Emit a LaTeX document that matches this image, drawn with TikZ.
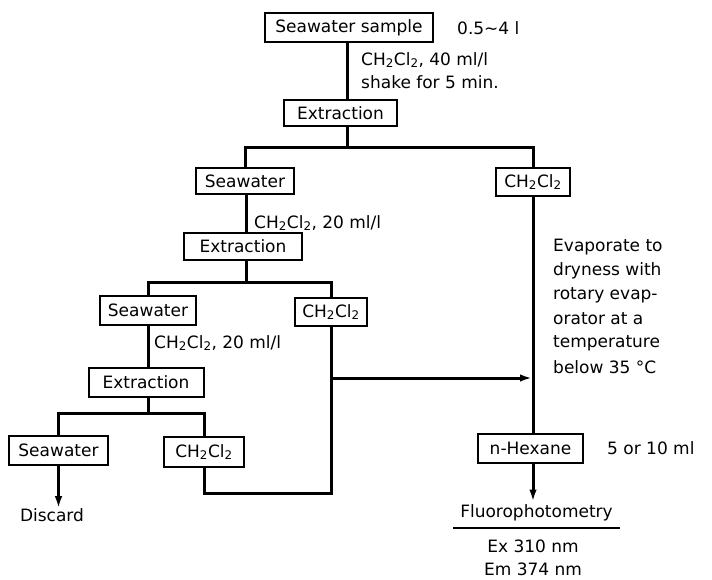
\documentclass[tikz,border=0pt]{standalone}
\usepackage{fontspec}
\setmainfont{DejaVu Sans}
\usetikzlibrary{arrows.meta}
\begin{document}
\begin{tikzpicture}[x=1pt,y=-1pt,
  every node/.style={font=\fontsize{17}{20}\selectfont},
  box/.style={draw, line width=2pt, inner sep=0pt, minimum height=28pt},
  conn/.style={line width=3pt},
  arr/.style={conn, -{Latex[length=12pt,width=7.5pt]}},
  lbl/.style={anchor=west, inner sep=0pt}]
\useasboundingbox (0,0) rectangle (712,579);
% boxes
\node[box, minimum width=168pt, minimum height=29pt] (sample) at (349,27.5) {Seawater sample};
\node[box, minimum width=113pt, minimum height=26pt] (ext1) at (340.5,113) {Extraction};
\node[box, minimum width=98pt, minimum height=26pt] (sw1) at (245,181) {Seawater};
\node[box, minimum width=74pt] (ch1) at (533,182) {CH\textsubscript{2}Cl\textsubscript{2}};
\node[box, minimum width=118pt, minimum height=27pt] (ext2) at (243,246.5) {Extraction};
\node[box, minimum width=96pt, minimum height=29pt] (sw2) at (148,310.5) {Seawater};
\node[box, minimum width=72pt] (ch2) at (331,312) {CH\textsubscript{2}Cl\textsubscript{2}};
\node[box, minimum width=115pt, minimum height=29pt] (ext3) at (146,382.5) {Extraction};
\node[box, minimum width=99pt, minimum height=29pt] (sw3) at (58.5,450.5) {Seawater};
\node[box, minimum width=80pt, minimum height=30pt] (ch3) at (204,452) {CH\textsubscript{2}Cl\textsubscript{2}};
\node[box, minimum width=105pt, minimum height=29pt] (hex) at (530.5,448.5) {n-Hexane};
% texts
\node[inner sep=0pt] (discard) at (52,515) {Discard};
\node[inner sep=0pt] (fluoro) at (536.5,513) {Fluorophotometry};
\node[inner sep=0pt] (ex) at (533,546) {Ex 310 nm};
\node[inner sep=0pt] (em) at (533,569) {Em 374 nm};
\node[lbl] (vol) at (457,28) {0.5∼4 l};
\node[lbl] (l1) at (361,60) {CH\textsubscript{2}Cl\textsubscript{2}, 40 ml/l};
\node[lbl] (l2) at (361,82) {shake for 5 min.};
\node[lbl] (l3) at (254,223) {CH\textsubscript{2}Cl\textsubscript{2}, 20 ml/l};
\node[lbl] (l4) at (154,343) {CH\textsubscript{2}Cl\textsubscript{2}, 20 ml/l};
\node[lbl] (l5) at (607,448) {5 or 10 ml};
\node[lbl] (e1) at (553,247) {Evaporate to};
\node[lbl] (e2) at (553,271) {dryness with};
\node[lbl] (e3) at (553,295) {rotary evap-};
\node[lbl] (e4) at (553,319) {orator at a};
\node[lbl] (e5) at (553,343) {temperature};
\node[lbl] (e6) at (553,367) {below 35 °C};
% junctions
\coordinate (j1) at (347,147);
\coordinate (j2) at (246,282);
\coordinate (j3) at (148,413);
\coordinate (c1) at (331,493);
\coordinate (c2) at (331,378);
% connectors
\draw[conn] (sample.south -| j1) -- (ext1.north -| j1);
\draw[conn] (ext1.south -| j1) -- (j1);
\draw[conn] (sw1.north) |- (j1) -| (ch1.north);
\draw[conn] (sw1.south -| j2) -- (ext2.north -| j2);
\draw[conn] (ext2.south -| j2) -- (j2);
\draw[conn] (sw2.north) |- (j2) -| (ch2.north);
\draw[conn] (sw2.south) -- (sw2.south |- ext3.north);
\draw[conn] (ext3.south -| j3) -- (j3);
\draw[conn] (sw3.north) |- (j3) -| (ch3.north);
\draw[arr] (sw3.south) -- (sw3.south |- discard.north);
\draw[conn] (ch3.south) |- (c1) -- (ch2.south -| c1);
\draw[arr, shorten >=1pt] (c2) -- (c2 -| ch1.south);
\draw[conn] (ch1.south) -- (ch1.south |- hex.north);
\draw[arr, shorten >=3pt] (hex.south -| ch1.south) -- (fluoro.north -| ch1.south);
\draw[line width=1.5pt] ([xshift=-7pt,yshift=-6.5pt]fluoro.south west) -- ([xshift=7pt,yshift=-6.5pt]fluoro.south east);
\end{tikzpicture}
\end{document}
